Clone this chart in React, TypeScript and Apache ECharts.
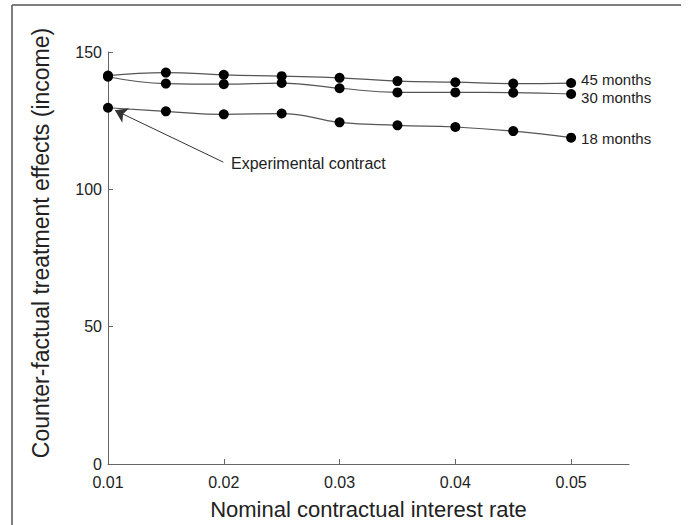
import React, { useEffect, useRef } from "react";
import * as echarts from "echarts";

const rates = [0.01, 0.015, 0.02, 0.025, 0.03, 0.035, 0.04, 0.045, 0.05];
const months45 = [141.4, 142.5, 141.7, 141.2, 140.6, 139.4, 139.0, 138.5, 138.7];
const months30 = [141.0, 138.5, 138.3, 138.7, 136.8, 135.3, 135.3, 135.2, 134.7];
const months18 = [129.7, 128.4, 127.3, 127.6, 124.4, 123.3, 122.7, 121.2, 118.8];
const seriesNames = ["45 months", "30 months", "18 months"];
const yTitle = "Counter-factual treatment effects (income)";
const xTitle = "Nominal contractual interest rate";
const annotationText = "Experimental contract";
// annotation arrow, in data coordinates: [rate, value]
const arrowFrom = [0.01996, 109.9];
const arrowTo = [0.0106, 128.8];

const FONT = "'Liberation Sans', Arial, Helvetica, sans-serif";

export default function App() {
  const ref = useRef<HTMLDivElement>(null);

  useEffect(() => {
    if (!ref.current) return;
    const chart = echarts.init(ref.current, undefined, { renderer: "svg" });
    const lineSeries = (name: string, values: number[], labelOffset: number[], extra: any = {}) => ({
      name,
      type: "line",
      data: rates.map((r, i) => [r, values[i]]),
      smooth: 0.45,
      symbol: "circle",
      symbolSize: 10,
      itemStyle: { color: "#000" },
      lineStyle: { color: "#555", width: 1.2 },
      endLabel: {
        show: true,
        formatter: name,
        distance: 10,
        offset: labelOffset,
        color: "#222",
        fontSize: 15,
        fontFamily: FONT,
        align: "left",
        verticalAlign: "middle",
      },
      emphasis: { disabled: true },
      ...extra,
    });
    chart.setOption({
      animation: false,
      grid: { left: 108, right: 61, top: 52, bottom: 61 },
      xAxis: {
        type: "value",
        min: 0.01,
        max: 0.055,
        interval: 0.01,
        name: xTitle,
        nameLocation: "middle",
        nameGap: 34,
        nameTextStyle: { fontSize: 22, color: "#222", fontFamily: FONT },
        axisLine: { lineStyle: { color: "#666", width: 1 } },
        axisTick: { inside: true, length: 5, lineStyle: { color: "#666" } },
        axisLabel: {
          margin: 10,
          fontSize: 16,
          color: "#222",
          fontFamily: FONT,
          showMaxLabel: false,
          formatter: (v: number) => (Math.abs(v - 0.055) < 1e-9 ? "" : v.toFixed(2)),
        },
        splitLine: { show: false },
      },
      yAxis: {
        type: "value",
        min: 0,
        max: 150,
        interval: 50,
        axisLine: { show: true, lineStyle: { color: "#666", width: 1 } },
        axisTick: { show: true, inside: true, length: 5, lineStyle: { color: "#666" } },
        axisLabel: { margin: 6, fontSize: 16, color: "#222", fontFamily: FONT },
        splitLine: { show: false },
      },
      graphic: [
        { type: "line", shape: { x1: 12, y1: 5, x2: 12, y2: 525 }, style: { stroke: "#555", lineWidth: 1.5 } },
        { type: "line", shape: { x1: 12, y1: 5, x2: 681, y2: 5 }, style: { stroke: "#555", lineWidth: 1.5 } },
        {
          type: "text",
          x: 41,
          y: 243,
          rotation: Math.PI / 2,
          style: {
            text: yTitle,
            fontSize: 23,
            fontFamily: FONT,
            fill: "#222",
            align: "center",
            verticalAlign: "middle",
          },
        },
        {
          type: "text",
          x: 231,
          y: 163,
          style: {
            text: annotationText,
            fontSize: 16,
            fontFamily: FONT,
            fill: "#222",
            align: "left",
            verticalAlign: "middle",
          },
        },
      ],
      series: [
        lineSeries(seriesNames[0], months45, [0, -3.5]),
        lineSeries(seriesNames[1], months30, [0, 3.5]),
        lineSeries(seriesNames[2], months18, [0, 1], {
          markLine: {
            silent: true,
            symbol: ["none", "arrow"],
            symbolSize: 12,
            label: { show: false },
            lineStyle: { color: "#333", width: 1, type: "solid" },
            itemStyle: { color: "#111" },
            emphasis: { disabled: true },
            data: [[{ coord: arrowFrom }, { coord: arrowTo }]],
          },
        }),
      ],
    });
    return () => chart.dispose();
  }, []);

  return (
    <div
      ref={ref}
      style={{ position: "fixed", left: 0, top: 0, width: 690, height: 525, background: "#fff" }}
    />
  );
}
